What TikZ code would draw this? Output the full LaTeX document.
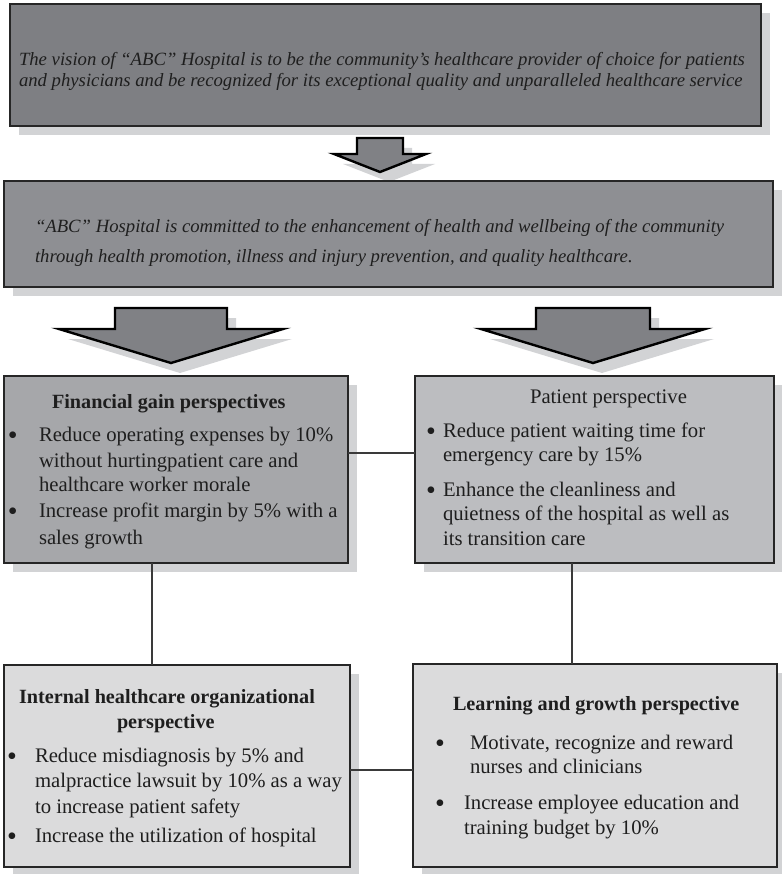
\documentclass[tikz,border=0pt]{standalone}
\usepackage{fontspec}
\setmainfont{Liberation Serif}
\usetikzlibrary{shadows}

\definecolor{visionfill}{HTML}{7E7F83}
\definecolor{missionfill}{HTML}{8E8F93}
\definecolor{arrowfill}{HTML}{808185}
\definecolor{finfill}{HTML}{A6A7AA}
\definecolor{patfill}{HTML}{BCBDC0}
\definecolor{lowfill}{HTML}{DBDBDC}
\definecolor{shadowgray}{HTML}{D2D3D5}
\definecolor{edgegray}{HTML}{262626}
\definecolor{ink}{HTML}{1E1E1E}
\definecolor{linkgray}{HTML}{3A3A3A}

% downward block arrow: centre x, shaft top, shaft half width, head base, head half width, tip
\newcommand\blockarrow[6]{%
  \foreach \dx/\dy/\sty in {9/10/arrowshade, 0/0/arrowbody}{%
    \path[\sty, shift={(\dx,\dy)}]
      ({#1-#3},#2) -- ({#1+#3},#2) -- ({#1+#3},#4) -- ({#1+#5},#4)
      -- (#1,#6) -- ({#1-#5},#4) -- ({#1-#3},#4) -- cycle;}}

\tikzset{
  every node/.style={inner sep=0pt, outer sep=0pt},
  panel/.style={draw=edgegray, line width=1.5pt, anchor=north west,
    drop shadow={shadow xshift=9pt, shadow yshift=-9pt, fill=shadowgray, opacity=1}},
  arrowshade/.style={fill=shadowgray},
  arrowbody/.style={fill=arrowfill, draw=black, line width=2.4pt, line join=miter},
  link/.style={draw=linkgray, line width=1.3pt},
  vis/.style={anchor=base west, text=ink, font=\fontsize{18.7}{22}\selectfont\itshape},
  body/.style={anchor=base west, text=ink, font=\fontsize{20.7}{25}\selectfont},
  head/.style={anchor=base west, text=ink, font=\fontsize{20.2}{25}\selectfont\bfseries},
  bul/.style={anchor=base west, text=ink, font=\fontsize{28}{30}\selectfont},
}

\begin{document}
\begin{tikzpicture}[x=1pt, y=-1pt]
\useasboundingbox (0,0) rectangle (781,874);

% vision
\node[panel, fill=visionfill, minimum width=751pt, minimum height=122pt] (vision) at (10,4) {};
\node[vis] (vis1) at (19,66) {The vision of “ABC” Hospital is to be the community’s healthcare provider of choice for patients};
\node[vis] (vis2) at (19,87) {and physicians and be recognized for its exceptional quality and unparalleled healthcare service};

\blockarrow{380}{138}{23}{154}{46}{172}

% mission
\node[panel, fill=missionfill, minimum width=769pt, minimum height=106pt] (mission) at (4,181) {};
\node[vis] (mis1) at (35,233) {“ABC” Hospital is committed to the enhancement of health and wellbeing of the community};
\node[vis] (mis2) at (35,262) {through health promotion, illness and injury prevention, and quality healthcare.};

\blockarrow{171}{308}{56}{329}{112}{363}
\blockarrow{593}{308}{57}{329}{112}{363}

% financial
\node[panel, fill=finfill, minimum width=344pt, minimum height=187pt] (fin) at (4,376) {};
\node[head] (fin-t) at (52,408) {Financial gain perspectives};
\node[bul] (fin-b1) at (8,444) {•};
\node[body] (fin-1) at (39,441) {Reduce operating expenses by 10\%};
\node[body] (fin-2) at (39,467) {without hurtingpatient care and};
\node[body] (fin-3) at (39,491) {healthcare worker morale};
\node[bul] (fin-b2) at (8,520) {•};
\node[body] (fin-4) at (39,517) {Increase profit margin by 5\% with a};
\node[body] (fin-5) at (39,544) {sales growth};

% patient
\node[panel, fill=patfill, minimum width=359pt, minimum height=187pt] (pat) at (415,376) {};
\node[body] (pat-t) at (530,403) {Patient perspective};
\node[bul] (pat-b1) at (426,440) {•};
\node[body] (pat-1) at (443,437) {Reduce patient waiting time for};
\node[body] (pat-2) at (443,461) {emergency care by 15\%};
\node[bul] (pat-b2) at (426,499) {•};
\node[body] (pat-3) at (443,496) {Enhance the cleanliness and};
\node[body] (pat-4) at (443,520) {quietness of the hospital as well as};
\node[body] (pat-5) at (443,545) {its transition care};

% internal
\node[panel, fill=lowfill, minimum width=346pt, minimum height=202pt] (intl) at (4,665) {};
\node[head] (int-t1) at (19,703) {Internal healthcare organizational};
\node[head] (int-t2) at (117,728) {perspective};
\node[bul] (int-b1) at (7,765) {•};
\node[body] (int-1) at (35,762) {Reduce misdiagnosis by 5\% and};
\node[body] (int-2) at (35,787) {malpractice lawsuit by 10\% as a way};
\node[body] (int-3) at (35,813) {to increase patient safety};
\node[bul] (int-b2) at (7,845) {•};
\node[body] (int-4) at (35,842) {Increase the utilization of hospital};

% learning
\node[panel, fill=lowfill, minimum width=364pt, minimum height=203pt] (lrn) at (413,664) {};
\node[head] (lrn-t) at (453,710) {Learning and growth perspective};
\node[bul] (lrn-b1) at (435,752) {•};
\node[body] (lrn-1) at (470,749) {Motivate, recognize and reward};
\node[body] (lrn-2) at (470,773) {nurses and clinicians};
\node[bul] (lrn-b2) at (435,812) {•};
\node[body] (lrn-3) at (464,809) {Increase employee education and};
\node[body] (lrn-4) at (464,834) {training budget by 10\%};

% links between the perspectives
\path[link] (fin.east |- 0,453) -- (pat.west |- 0,453);
\path[link] (intl.east |- 0,770) -- (lrn.west |- 0,770);
\path[link] (fin.south -| 152,0) -- (intl.north -| 152,0);
\path[link] (pat.south -| 572,0) -- (lrn.north -| 572,0);
\end{tikzpicture}
\end{document}
